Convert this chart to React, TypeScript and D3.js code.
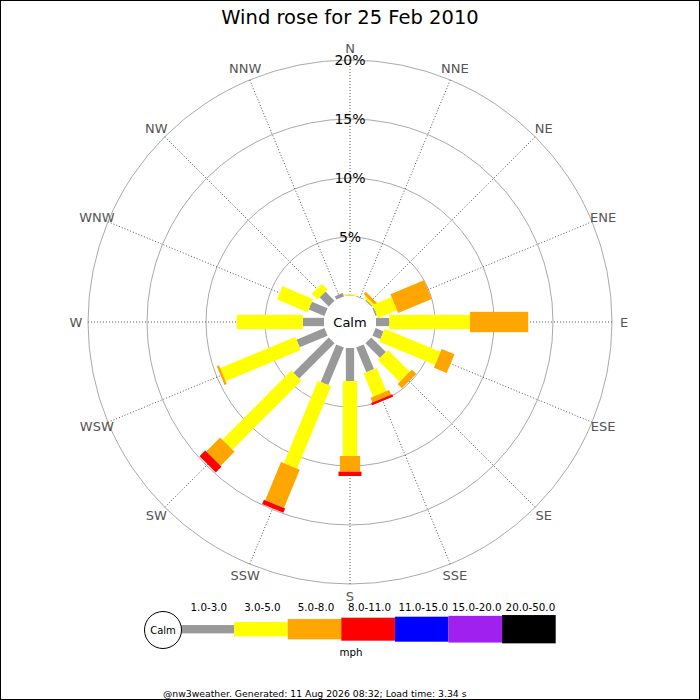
import React from 'react';
import * as d3 from 'd3';

// Compass sectors, clockwise from north
const directions = ['N', 'NNE', 'NE', 'ENE', 'E', 'ESE', 'SE', 'SSE', 'S', 'SSW', 'SW', 'WSW', 'W', 'WNW', 'NW', 'NNW'];

// Speed bands (mph)
const speedBands = ['1.0-3.0', '3.0-5.0', '5.0-8.0', '8.0-11.0', '11.0-15.0', '15.0-20.0', '20.0-50.0'];

// Percentage of observations per sector, one array per speed band
const band1to3 = [0.05, 0.05, 0.1, 0.13, 1.13, 0.73, 1.75, 2.26, 2.8, 3.44, 4.23, 2.56, 1.8, 1.44, 1.1, 0.3];
const band3to5 = [0.1, 0, 0.2, 1.73, 6.84, 5.12, 2.61, 2.14, 6.35, 7.56, 8.27, 6.9, 5.6, 2.8, 0.68, 0];
const band5to8 = [0, 0, 0.25, 3.08, 4.93, 1.18, 0.53, 0.43, 1.33, 3.5, 1.68, 0.2, 0, 0, 0, 0];
const band8to11 = [0, 0, 0, 0, 0, 0, 0, 0.2, 0.37, 0.4, 0.68, 0, 0, 0, 0, 0];
const band11to15 = [0, 0, 0, 0, 0, 0, 0, 0, 0, 0, 0, 0, 0, 0, 0, 0];
const band15to20 = [0, 0, 0, 0, 0, 0, 0, 0, 0, 0, 0, 0, 0, 0, 0, 0];
const band20to50 = [0, 0, 0, 0, 0, 0, 0, 0, 0, 0, 0, 0, 0, 0, 0, 0];

const percentTicks = [5, 10, 15, 20];

const titleText = 'Wind rose for 25 Feb 2010';
const footerText = '@nw3weather. Generated: 11 Aug 2026 08:32; Load time: 3.34 s';

const bandValues = [band1to3, band3to5, band5to8, band8to11, band11to15, band15to20, band20to50];
const bandColors = ['#999999', '#ffff00', '#ffa500', '#ff0000', '#0000ff', '#a020f0', '#000000'];
const bandWidths = [8.3, 14.3, 20.3, 23, 25, 26.7, 28.3];

const FONT = '"DejaVu Sans", sans-serif';

export default function App() {
  const W = 700;
  const H = 700;
  const cx = 350;
  const cy = 322;
  const calmR = 25;

  const r = d3.scaleLinear().domain([0, 20]).range([26, 262]);
  const angle = d3
    .scaleBand<string>()
    .domain(directions)
    .range([0, 360]);
  const sectorAngle = (d: string) => (angle(d) as number);

  // Stack bands outward per sector
  const segments: { dir: string; band: number; r0: number; r1: number }[] = [];
  directions.forEach((dir, i) => {
    let cum = 0;
    bandValues.forEach((vals, b) => {
      const v = vals[i];
      if (v > 0) {
        segments.push({ dir, band: b, r0: r(cum), r1: r(cum + v) });
      }
      cum += v;
    });
  });

  const legendX = d3.scaleLinear().domain([0, speedBands.length]).range([180.5, 555.7]);
  const legendY = 629.2;

  return (
    <svg
      width={W}
      height={H}
      style={{ position: 'absolute', left: 0, top: 0, background: '#fff' }}
      fontFamily={FONT}
    >
      <rect x={0} y={0} width={W} height={H} fill="#fff" />

      <text x={cx} y={24} textAnchor="middle" fontSize={19.5} fill="#000">
        {titleText}
      </text>

      {/* rings */}
      {percentTicks.map((t) => (
        <circle key={t} cx={cx} cy={cy} r={r(t)} fill="none" stroke="#aaaaaa" strokeWidth={1} />
      ))}

      {/* sector spokes */}
      {directions.map((d) => {
        const a = (sectorAngle(d) * Math.PI) / 180;
        const R = r(20);
        return (
          <line
            key={d}
            x1={cx}
            y1={cy}
            x2={cx + R * Math.sin(a)}
            y2={cy - R * Math.cos(a)}
            stroke="#444"
            strokeWidth={0.9}
            strokeDasharray="1 2"
          />
        );
      })}

      {/* sector labels */}
      {directions.map((d) => {
        const a = (sectorAngle(d) * Math.PI) / 180;
        const R = 274;
        return (
          <text
            key={d}
            x={cx + R * Math.sin(a)}
            y={cy - R * Math.cos(a)}
            textAnchor="middle"
            dominantBaseline="central"
            fontSize={13}
            fill="#555"
          >
            {d}
          </text>
        );
      })}

      {/* stacked bars */}
      {segments.map((s, i) => (
        <g key={i} transform={`translate(${cx},${cy}) rotate(${sectorAngle(s.dir)})`}>
          <rect
            x={-bandWidths[s.band] / 2}
            y={-s.r1}
            width={bandWidths[s.band]}
            height={s.r1 - s.r0}
            fill={bandColors[s.band]}
          />
        </g>
      ))}

      {/* percentage labels */}
      {percentTicks.map((t) => (
        <text key={t} x={cx} y={cy - r(t) + 5} textAnchor="middle" fontSize={14} fill="#000">
          {`${t}%`}
        </text>
      ))}

      {/* calm centre */}
      <circle cx={cx} cy={cy} r={calmR} fill="#fff" />
      <text x={cx} y={cy} textAnchor="middle" dominantBaseline="central" fontSize={13} fill="#000">
        Calm
      </text>

      {/* legend */}
      {speedBands.map((b, i) => {
        const x0 = legendX(i);
        const x1 = legendX(i + 1);
        return (
          <g key={b}>
            <rect
              x={x0}
              y={legendY - bandWidths[i] / 2}
              width={x1 - x0}
              height={bandWidths[i]}
              fill={bandColors[i]}
            />
            <text x={(x0 + x1) / 2 + 1.5} y={611} textAnchor="middle" fontSize={10.3} fill="#000">
              {b}
            </text>
          </g>
        );
      })}
      <circle cx={163} cy={630} r={18.5} fill="#fff" stroke="#000" strokeWidth={1} />
      <text x={163} y={630} textAnchor="middle" dominantBaseline="central" fontSize={10} fill="#000">
        Calm
      </text>
      <text x={351} y={656} textAnchor="middle" fontSize={10.3} fill="#000">
        mph
      </text>

      <text x={163} y={696.5} fontSize={9.3} fill="#000">
        {footerText}
      </text>

      <rect x={0.5} y={0.5} width={W - 1} height={H - 1} fill="none" stroke="#000" strokeWidth={1} />
    </svg>
  );
}
